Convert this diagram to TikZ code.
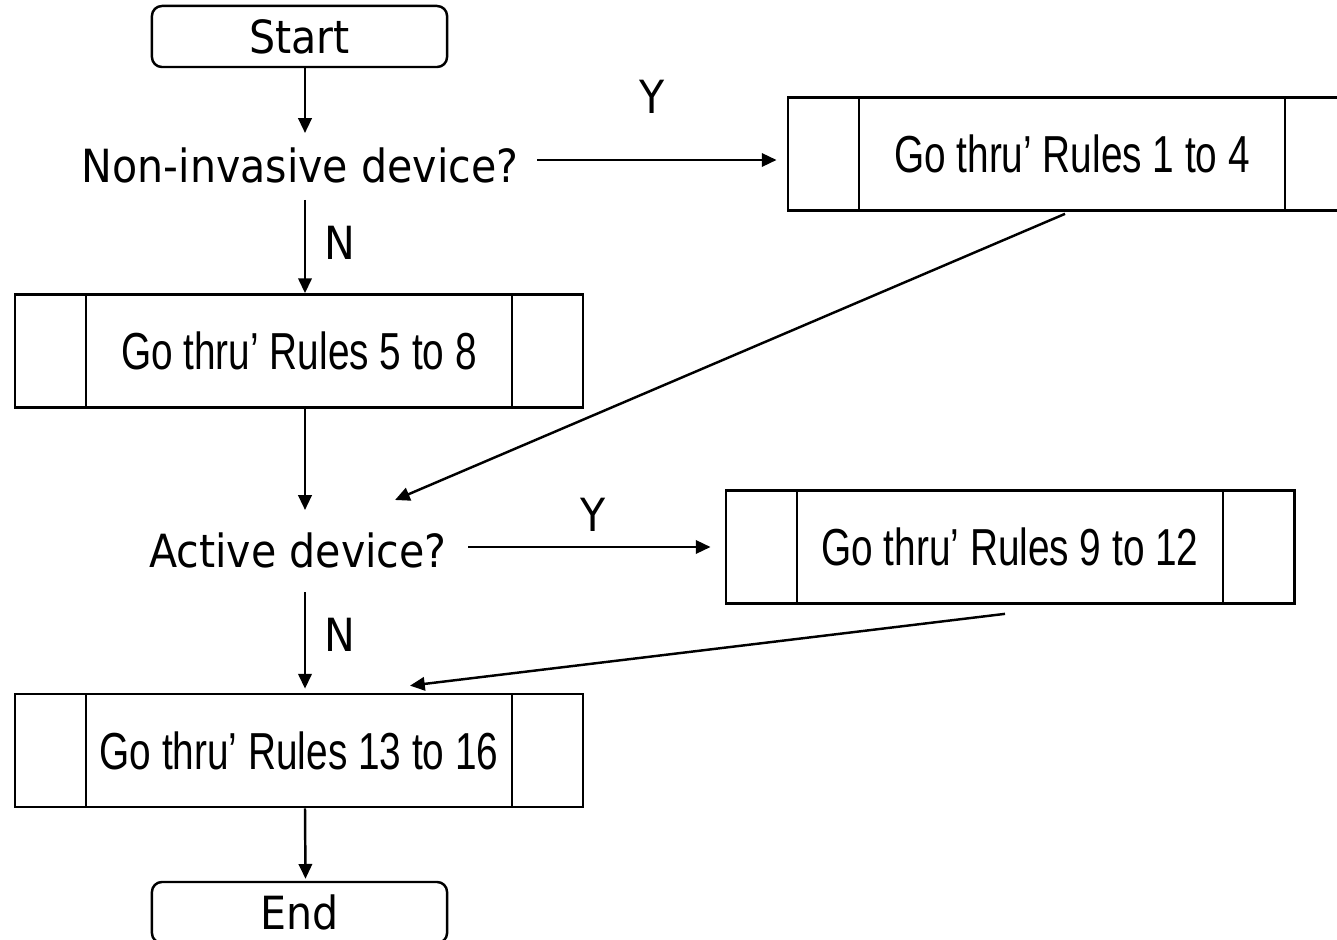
\documentclass[tikz,border=0pt]{standalone}
\usepackage{fontspec}
\usetikzlibrary{arrows.meta,calc}
\newfontfamily\lblfont[FakeStretch=0.9]{DejaVu Sans}
\newfontfamily\narrowfont[FakeStretch=0.745]{Liberation Sans}
\tikzset{
  lbl/.style={font=\lblfont\fontsize{13}{15}\selectfont, inner sep=0pt},
  termbox/.style={draw, line width=0.7pt, rounded corners=0.1cm, minimum width=2.95cm, minimum height=0.61cm, inner sep=0pt, font=\lblfont\fontsize{13}{15}\selectfont},
  procbox/.style={draw, line width=0.75pt, minimum width=5.68cm, minimum height=1.13cm, inner sep=0pt,
    font=\narrowfont\fontsize{14.8}{17}\selectfont,
    path picture={
      \draw[line width=0.75pt] ([xshift=0.71cm]path picture bounding box.north west) -- ([xshift=0.71cm]path picture bounding box.south west);
      \draw[line width=0.75pt] ([xshift=-0.71cm]path picture bounding box.north east) -- ([xshift=-0.71cm]path picture bounding box.south east);
    }},
  arr/.style={line width=0.7pt, -{Triangle[length=4.2pt,width=3.8pt]}}
}
\begin{document}
\begin{tikzpicture}[x=0.01cm,y=-0.01cm]
\clip (0,0) rectangle (1337,940);
\fill[white] (0,0) rectangle (1337,940);
\node[termbox] (start) at (299.5,36.5) {Start};
\node[lbl] (q1) at (300,165) {Non-invasive device?};
\node[procbox] (b1) at (1072,154) {Go thru’ Rules 1 to 4};
\node[procbox] (b58) at (299,351) {Go thru’ Rules 5 to 8};
\node[lbl] (q2) at (298,550) {Active device?};
\node[procbox] (b912) at (1010,547) {Go thru’ Rules 9 to 12};
\node[procbox] (b1316) at (299,750.5) {Go thru’ Rules 13 to 16};
\node[termbox] (end) at (299.5,912.5) {End};
\node[lbl] (y1) at (652,97) {Y};
\node[lbl] (y2) at (593,515) {Y};
\node[lbl] (n1) at (340,243) {N};
\node[lbl] (n2) at (340,635) {N};
\draw[arr] ($(start.south)+(5.5,0)$) -- ($(q1.center)+(5,-32)$);
\draw[arr] ($(q1.center)+(237,-5)$) -- ($(b1.west)+(-10,6)$);
\draw[arr] ($(q1.center)+(5,35)$) -- ($(b58.north)+(6,0)$);
\draw[arr] ($(b58.south)+(6,0)$) -- ($(q2.center)+(7,-40)$);
\draw[arr] ($(b1.south)+(-7,2)$) -- ($(q2.center)+(97,-50)$);
\draw[arr] ($(q2.center)+(170,-3)$) -- ($(b912.west)+(-14,0)$);
\draw[arr] ($(q2.center)+(7,42)$) -- ($(b1316.north)+(6,-4)$);
\draw[arr] ($(b912.south)+(-5,9)$) -- ($(b1316.north)+(111,-7)$);
\draw[arr] ($(b1316.south)+(6,0)$) -- ($(end.north)+(6,-2)$);
\end{tikzpicture}
\end{document}
